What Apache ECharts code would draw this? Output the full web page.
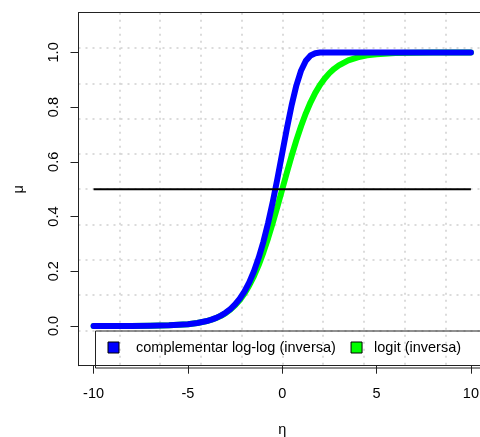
<!DOCTYPE html>
<html>
<head>
<meta charset="utf-8">
<script src="https://cdn.jsdelivr.net/npm/echarts@6/dist/echarts.min.js"></script>
<style>html,body{margin:0;padding:0;background:#fff;}#c{width:480px;height:437px;}</style>
</head>
<body>
<div id="c"></div>
<script>
// eta grid (x values)
var eta = [-10,-9,-8,-7,-6,-5,-4.5,-4,-3.75,-3.5,-3.25,-3,-2.75,-2.5,-2.25,-2,-1.75,-1.5,-1.25,-1,-0.75,-0.5,-0.25,0,0.25,0.5,0.75,1,1.25,1.5,1.75,2,2.25,2.5,2.75,3,3.5,4,4.5,5,6,7,8,9,10];
// complementary log-log inverse values
var cloglogMu = [0.00005,0.00012,0.00034,0.00091,0.00248,0.00672,0.01105,0.01815,0.02324,0.02975,0.03803,0.04857,0.06193,0.07881,0.10004,0.12658,0.15951,0.19999,0.24912,0.30780,0.37646,0.45476,0.54104,0.63212,0.72308,0.80770,0.87961,0.93401,0.96951,0.98869,0.99683,0.99938,0.99992,1.0,1.0,1.0,1.0,1.0,1.0,1.0,1.0,1.0,1.0,1.0,1.0];
// logit inverse values
var logitMu = [0.00005,0.00012,0.00034,0.00091,0.00247,0.00669,0.01099,0.01799,0.02298,0.02931,0.03733,0.04743,0.06009,0.07586,0.09535,0.11920,0.14805,0.18243,0.22270,0.26894,0.32082,0.37754,0.43782,0.5,0.56218,0.62246,0.67918,0.73106,0.77730,0.81757,0.85195,0.88080,0.90465,0.92414,0.93991,0.95257,0.97069,0.98201,0.98901,0.99331,0.99753,0.99909,0.99966,0.99988,0.99995];
// reference line
var refLevel = 0.5;
var refRange = [-10, 10];
// tick labels
var xTicks = [-10, -5, 0, 5, 10];
var yTicks = [0, 0.2, 0.4, 0.6, 0.8, 1.0];
var seriesNames = ['complementar log-log (inversa)', 'logit (inversa)'];

function pairs(xs, ys) { return xs.map(function (x, i) { return [x, ys[i]]; }); }

var FONT = 'Liberation Sans, Arial, sans-serif';
var chart = echarts.init(document.getElementById('c'), null, {renderer: 'canvas'});
chart.setOption({
  animation: false,
  backgroundColor: '#ffffff',
  grid: {left: 78.5, top: 12.7, right: -6, bottom: 71.3, containLabel: false, outerBoundsMode: 'none'},
  xAxis: [{
    type: 'value', min: -10.8, max: 10.8, position: 'bottom',
    name: 'η', nameLocation: 'middle', nameGap: 57,
    nameTextStyle: {fontSize: 14.5, color: '#000', fontFamily: FONT},
    axisLine: {show: true, onZero: false, lineStyle: {color: '#222', width: 1}},
    axisTick: {show: true, length: 8, customValues: xTicks, lineStyle: {color: '#222'}},
    axisLabel: {customValues: xTicks, fontSize: 14.5, color: '#000', fontFamily: FONT, margin: 21},
    splitLine: {show: false}
  }, {
    type: 'value', min: 0, max: 10, interval: 1, position: 'top',
    axisLine: {show: true, onZero: false, lineStyle: {color: '#222', width: 1}},
    axisTick: {show: false}, axisLabel: {show: false},
    splitLine: {show: true, showMinLine: false, showMaxLine: false, lineStyle: {color: '#cfcfcf', width: 1.5, type: [2, 5]}}
  }],
  yAxis: [{
    type: 'value', min: -0.145, max: 1.145, position: 'left',
    name: 'μ', nameLocation: 'middle', nameGap: 52, nameRotate: 90,
    nameTextStyle: {fontSize: 14.5, color: '#000', fontFamily: FONT},
    axisLine: {show: true, onZero: false, lineStyle: {color: '#222', width: 1}},
    axisTick: {show: true, length: 8, customValues: yTicks, lineStyle: {color: '#222'}},
    axisLabel: {customValues: yTicks, rotate: 90, fontSize: 14.5, color: '#000', fontFamily: FONT, margin: 17,
      formatter: function (v) { return (+v).toFixed(1); }},
    splitLine: {show: false}
  }, {
    type: 'value', min: 0, max: 10, interval: 1, position: 'right',
    axisLine: {show: true, onZero: false, lineStyle: {color: '#222', width: 1}},
    axisTick: {show: false}, axisLabel: {show: false},
    splitLine: {show: true, showMinLine: false, showMaxLine: false, lineStyle: {color: '#cfcfcf', width: 1.5, type: [2, 5]}}
  }],
  legend: {
    left: 107.5, top: 340, padding: 0, orient: 'horizontal', itemGap: 14.7,
    icon: 'rect', itemWidth: 11, itemHeight: 11,
    itemStyle: {borderColor: '#000', borderWidth: 1},
    textStyle: {fontSize: 14.5, color: '#000', fontFamily: FONT, lineHeight: 14},
    data: [
      {name: seriesNames[0], textStyle: {padding: [0, 0, 0, 12]}},
      {name: seriesNames[1], textStyle: {padding: [0, 0, 0, 7]}}
    ]
  },
  graphic: [{
    type: 'rect', left: 93, top: 328.5, silent: true, z: 10,
    shape: {width: 420, height: 37},
    style: {fill: 'none', stroke: '#222', lineWidth: 1}
  }],
  series: [{
    name: seriesNames[1], type: 'line', xAxisIndex: 0, yAxisIndex: 0,
    data: pairs(eta, logitMu), showSymbol: false, symbol: 'none', smooth: false,
    itemStyle: {color: '#00ff00'},
    lineStyle: {color: '#00ff00', width: 6, cap: 'round', join: 'round'}, z: 2
  }, {
    name: seriesNames[0], type: 'line', xAxisIndex: 0, yAxisIndex: 0,
    data: pairs(eta, cloglogMu), showSymbol: false, symbol: 'none', smooth: false,
    itemStyle: {color: '#0000ff'},
    lineStyle: {color: '#0000ff', width: 6, cap: 'round', join: 'round'}, z: 3
  }, {
    name: 'ref', type: 'line', xAxisIndex: 0, yAxisIndex: 0,
    data: refRange.map(function (x) { return [x, refLevel]; }), showSymbol: false, symbol: 'none',
    itemStyle: {color: '#000'},
    lineStyle: {color: '#000', width: 2}, z: 4
  }]
});
</script>
</body>
</html>
